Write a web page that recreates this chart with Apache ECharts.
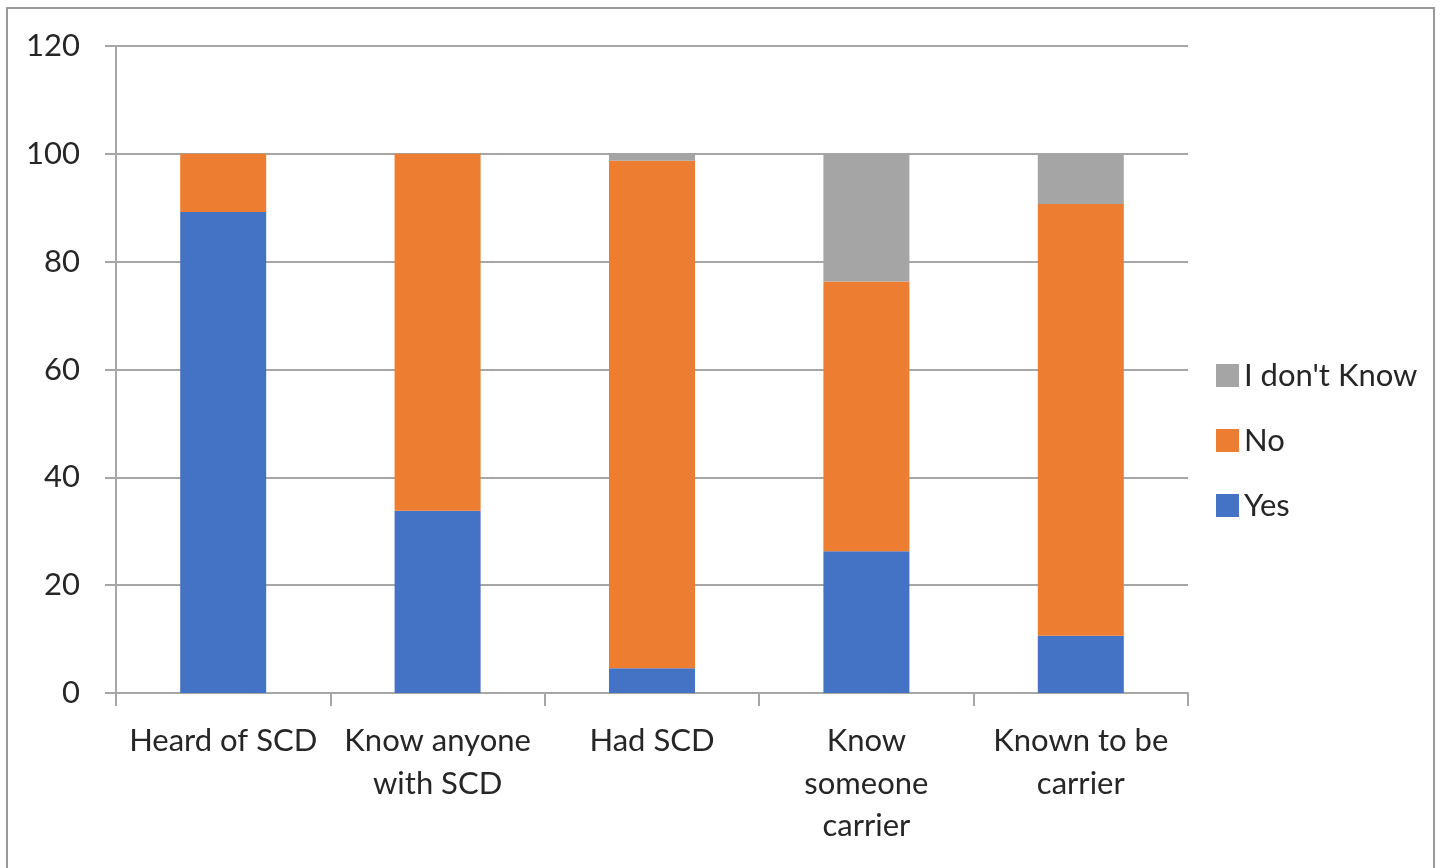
<!DOCTYPE html>
<html>
<head>
<meta charset="utf-8">
<style>
  html, body { margin: 0; padding: 0; background: #fff; }
  #chart { width: 1440px; height: 868px; }
</style>
<script src="https://cdn.jsdelivr.net/npm/echarts@6/dist/echarts.min.js"></script>
</head>
<body>
<div id="chart"></div>
<script>
const categories = ['Heard of SCD', 'Know anyone\nwith SCD', 'Had SCD', 'Know\nsomeone\ncarrier', 'Known to be\ncarrier'];
const yesValues = [89.2, 33.8, 4.6, 26.3, 10.6];
const noValues = [10.8, 66.2, 94.1, 50.0, 80.1];
const dontKnowValues = [0, 0, 1.3, 23.7, 9.3];
const yTicks = { min: 0, max: 120, interval: 20 };

const FONT = 'Lato, "Open Sans", sans-serif';
const TEXT = '#262626';
const LINE = '#a6a6a6';

const chart = echarts.init(document.getElementById('chart'), null, { renderer: 'canvas' });
chart.setOption({
  backgroundColor: '#ffffff',
  animation: false,
  graphic: [{
    type: 'rect',
    shape: { x: 7, y: 8, width: 1427, height: 880 },
    style: { fill: 'none', stroke: '#9a9a9a', lineWidth: 2 },
    z: 0
  }],
  grid: { left: 116, right: 252, top: 46, bottom: 175, containLabel: false },
  legend: {
    orient: 'vertical',
    left: 1211,
    top: 355,
    itemWidth: 23,
    itemHeight: 23,
    itemGap: 34,
    icon: 'rect',
    data: ["I don't Know", 'No', 'Yes'],
    textStyle: { fontFamily: FONT, fontSize: 31, color: TEXT, lineHeight: 30, padding: [0, 0, 0, 0] }
  },
  xAxis: {
    type: 'category',
    data: categories,
    axisLine: { show: true, lineStyle: { color: LINE, width: 2 } },
    axisTick: { show: true, length: 13, alignWithLabel: false, lineStyle: { color: LINE, width: 2 } },
    axisLabel: { interval: 0, margin: 27, fontFamily: FONT, fontSize: 31, color: TEXT, lineHeight: 42.5, align: 'center' },
    splitLine: { show: false }
  },
  yAxis: {
    type: 'value',
    min: yTicks.min,
    max: yTicks.max,
    interval: yTicks.interval,
    axisLine: { show: true, lineStyle: { color: LINE, width: 2 } },
    axisTick: { show: true, length: 11, lineStyle: { color: LINE, width: 2 } },
    axisLabel: { margin: 36, fontFamily: FONT, fontSize: 31, color: TEXT },
    splitLine: { show: true, lineStyle: { color: LINE, width: 2 } }
  },
  series: [
    { name: 'Yes', type: 'bar', stack: 'total', data: yesValues, barWidth: 86, itemStyle: { color: '#4472C4' } },
    { name: 'No', type: 'bar', stack: 'total', data: noValues, barWidth: 86, itemStyle: { color: '#ED7D31' } },
    { name: "I don't Know", type: 'bar', stack: 'total', data: dontKnowValues, barWidth: 86, itemStyle: { color: '#A5A5A5' } }
  ]
});
</script>
</body>
</html>
